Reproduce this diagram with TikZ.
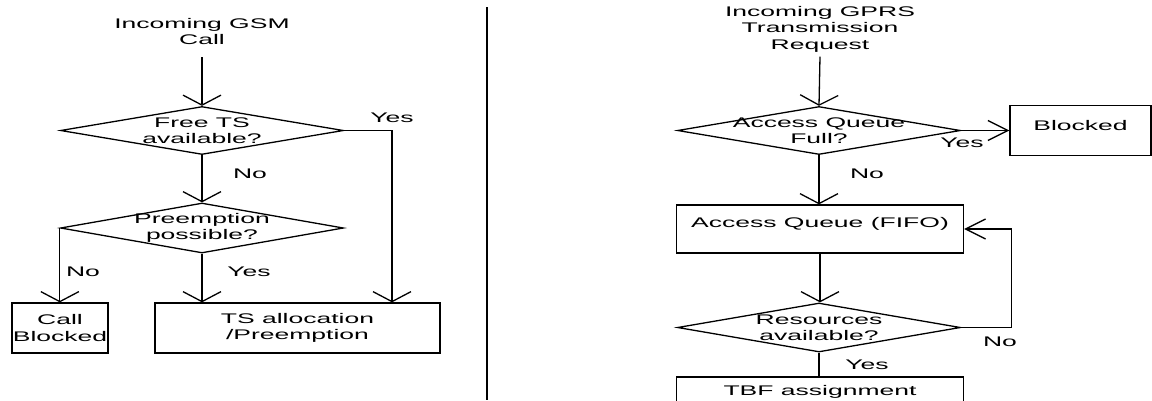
\documentclass[tikz,border=0pt]{standalone}
\usepackage{fontspec}
\setmainfont{Liberation Sans}[FakeStretch=1.9]
\usetikzlibrary{shapes.geometric,arrows.meta}

\begin{document}
\begin{tikzpicture}[
    x=1bp, y=-1bp,
    every node/.style={font=\fontsize{14}{16.5}\selectfont, align=center},
    every path/.style={line width=1.3bp},
    decision/.style={draw, diamond, minimum width=283bp, minimum height=48bp, inner sep=0pt},
    box/.style={draw, rectangle, inner sep=0pt},
    src/.style={inner ysep=12bp},
    lbl/.style={inner sep=0pt},
    arrv/.style={-{Straight Barb[length=10bp, width=38bp]}},
    arrh/.style={-{Straight Barb[length=20bp, width=20bp]}}
  ]
    \useasboundingbox (0,0) rectangle (1152,400);

    % GSM side
    \node[src] (gsm) at (202,31.5) {Incoming GSM\\Call};
    \node[decision, label={center:Free TS\\available?}] (free) at (202,130.5) {};
    \node[decision, minimum height=50bp, label={center:Preemption\\possible?}] (preempt) at (202,228) {};
    \node[box, minimum width=96bp, minimum height=50bp] (callb) at (60,328) {Call\\Blocked};
    \node[box, minimum width=285bp, minimum height=50bp] (alloc) at (297.5,328) {TS allocation\\/Preemption};
    \coordinate (yesturn) at (392,130.5);

    \node[lbl] (yes1) at (392,118) {Yes};
    \node[lbl] (no1) at (250,174) {No};
    \node[lbl] (no2) at (83,272) {No};
    \node[lbl] (yes2) at (249,272) {Yes};

    \draw[arrv] (gsm.south) -- (free.north);
    \draw[arrv] (free.south) -- (preempt.north);
    \draw[arrv] (free.east) -- (yesturn) -- (yesturn |- alloc.north);
    \draw[arrv] (preempt.west) -- (preempt.west |- callb.north);
    \draw[arrv] (preempt.south) -- (preempt.south |- alloc.north);

    % divider
    \draw[line width=2.5bp] (487,7) -- (487,400);

    % GPRS side
    \node[src, inner ysep=4bp] (gprs) at (820,29) {Incoming GPRS\\Transmission\\Request};
    \node[decision, label={center:Access Queue\\Full?}] (full) at (819,130.5) {};
    \node[box, minimum width=141bp, minimum height=50bp, text height=10bp, text depth=10bp] (blk) at (1080.5,130.5) {Blocked};
    \node[box, minimum width=287bp, minimum height=48bp, text height=10bp, text depth=14bp] (queue) at (820,229) {Access Queue (FIFO)};
    \node[decision, minimum height=49bp, label={center:Resources\\available?}] (res) at (819,327.5) {};
    \node[box, minimum width=287bp, minimum height=48bp, text height=10bp, text depth=22bp] (tbf) at (820,401) {TBF assignment};

    \node[lbl] (yes3) at (962,143) {Yes};
    \node[lbl] (no3) at (867,174) {No};
    \node[lbl] (no4) at (1000,342) {No};
    \node[lbl] (yes4) at (867,365) {Yes};

    \draw[arrv] (gprs.south) -- (full.north);
    \draw[arrh] (full.east) -- (blk.west);
    \draw[arrv] (full.south) -- (full.south |- queue.north);
    \draw[arrv] (queue.south) -- (queue.south |- res.north);
    \draw[arrh] (res.east) -- ++(50,0) |- (queue.east);
    \draw (res.south) -- (res.south |- tbf.north);
  \end{tikzpicture}
\end{document}
